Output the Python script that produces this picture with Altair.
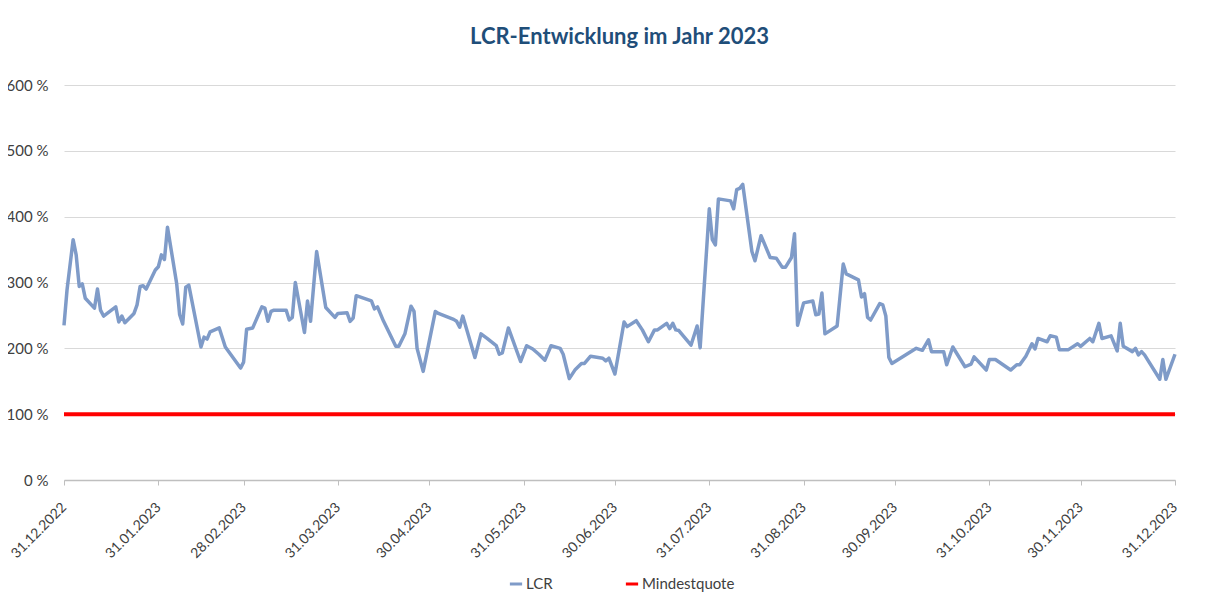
import altair as alt
import pandas as pd

# Days after 31.12.2022 and LCR values in percent
lcr_days = [0, 1, 3, 4, 5, 6, 7, 10, 11, 12, 13, 17, 18, 19, 20, 23, 24, 25, 26, 27,
            30, 31, 32, 33, 34, 37, 38, 39, 40, 41, 45, 46, 47, 48, 51, 53, 58, 59, 60, 62,
            65, 66, 67, 68, 69, 73, 74, 75, 76, 79, 80, 81, 83, 86, 89, 90, 93, 94, 95, 96,
            101, 102, 103, 105, 109, 110, 112, 114, 115, 116, 118, 122, 123, 128, 129, 130, 131, 135, 137, 139,
            142, 143, 144, 146, 150, 152, 154, 156, 158, 160, 163, 164, 166, 168, 170, 171, 173, 177, 178, 179,
            181, 184, 185, 188, 190, 192, 194, 195, 198, 199, 200, 201, 202, 206, 208, 209, 212, 213, 214, 215,
            219, 220, 221, 222, 223, 226, 227, 229, 232, 234, 236, 237, 239, 240, 241, 243, 246, 247, 248, 249,
            250, 254, 256, 257, 261, 262, 263, 264, 265, 268, 269, 270, 271, 272, 280, 282, 284, 285, 289, 290,
            292, 296, 298, 299, 303, 304, 306, 311, 313, 314, 316, 318, 319, 320, 323, 324, 326, 327, 330, 333,
            334, 337, 338, 340, 341, 344, 346, 347, 348, 351, 352, 353, 354, 355, 360, 361, 362, 365]
lcr_values = [235, 289, 365, 342, 294, 298, 276, 261, 290, 258, 249, 263, 240, 249, 239, 253, 266, 294, 295, 290,
              319, 324, 342, 335, 384, 299, 251, 237, 293, 296, 202, 217, 214, 225, 231, 202, 170, 179, 229, 231,
              263, 261, 241, 256, 258, 258, 243, 247, 300, 224, 272, 241, 347, 262, 247, 253, 254, 241, 246, 280,
              272, 260, 263, 241, 203, 203, 222, 264, 256, 200, 165, 256, 253, 244, 241, 232, 249, 186, 222, 215,
              204, 191, 193, 231, 180, 204, 199, 191, 182, 204, 200, 191, 154, 168, 177, 177, 188, 185, 181, 185,
              161, 240, 233, 242, 228, 210, 228, 228, 238, 230, 238, 228, 227, 205, 234, 201, 412, 365, 357, 427,
              424, 412, 441, 443, 449, 347, 333, 371, 338, 337, 323, 323, 338, 374, 235, 269, 272, 251, 252, 284,
              222, 234, 328, 313, 304, 278, 283, 247, 243, 268, 266, 249, 186, 177, 200, 197, 213, 195, 195, 175,
              202, 172, 176, 187, 167, 183, 183, 167, 175, 175, 188, 207, 199, 215, 210, 219, 217, 198, 198, 207,
              203, 215, 210, 238, 215, 219, 196, 238, 203, 195, 200, 190, 195, 190, 153, 183, 153, 191]

min_days = [0, 365]
min_values = [100, 100]

tick_dates = ["2022-12-31", "2023-01-31", "2023-02-28", "2023-03-31", "2023-04-30", "2023-05-31",
              "2023-06-30", "2023-07-31", "2023-08-31", "2023-09-30", "2023-10-31", "2023-11-30",
              "2023-12-31"]
y_ticks = [0, 100, 200, 300, 400, 500, 600]

series_names = ["LCR", "Mindestquote"]
series_colors = ["#7F9BC8", "#FF0000"]

base = pd.Timestamp("2022-12-31")
lcr_df = pd.DataFrame({"date": [base + pd.Timedelta(days=d) for d in lcr_days],
                       "value": lcr_values, "series": "LCR"})
min_df = pd.DataFrame({"date": [base + pd.Timedelta(days=d) for d in min_days],
                       "value": min_values, "series": "Mindestquote"})

tick_vals = [alt.DateTime(year=int(s[:4]), month=int(s[5:7]), date=int(s[8:10])) for s in tick_dates]

FONT = "Lato"

x_enc = alt.X("date:T",
              scale=alt.Scale(domain=[alt.DateTime(year=2022, month=12, date=31),
                                      alt.DateTime(year=2023, month=12, date=31)], nice=False),
              axis=alt.Axis(values=tick_vals, format="%d.%m.%Y", labelAngle=-45, labelAlign="right",
                            labelBaseline="middle", labelPadding=20, tickSize=5, tickColor="#BFBFBF",
                            domainColor="#BFBFBF", domainWidth=1.5, grid=False, title=None,
                            labelFontSize=14, labelColor="#404040", labelFont=FONT, labelOverlap=False))
y_enc = alt.Y("value:Q",
              scale=alt.Scale(domain=[0, 600], nice=False),
              axis=alt.Axis(values=y_ticks, labelExpr="datum.value + ' %'", ticks=False, domain=False,
                            gridColor="#D9D9D9", gridWidth=1, labelPadding=16, title=None,
                            labelFontSize=15, labelColor="#404040", labelFont=FONT))
c_enc = alt.Color("series:N",
                  scale=alt.Scale(domain=series_names, range=series_colors),
                  legend=alt.Legend(title=None, orient="none", direction="horizontal",
                                    legendX=444, legendY=491, symbolType="stroke",
                                    symbolSize=150, symbolStrokeWidth=3, columnPadding=66,
                                    gridAlign="none",
                                    labelFontSize=15, labelColor="#404040", labelFont=FONT,
                                    labelOffset=2))

lcr_line = alt.Chart(lcr_df).mark_line(strokeWidth=3.5, strokeJoin="round").encode(
    x=x_enc, y=y_enc, color=c_enc)
min_line = alt.Chart(min_df).mark_line(strokeWidth=4).encode(
    x=x_enc, y=y_enc, color=c_enc)

chart = alt.layer(lcr_line, min_line).properties(
    width=1111,
    height=395,
    background="white",
    title=alt.TitleParams("LCR-Entwicklung im Jahr 2023", fontSize=22, font=FONT, fontWeight="bold",
                          color="#1F4E79", anchor="middle", offset=29),
    autosize=alt.AutoSizeParams(type="none"),
    padding={"left": 56, "top": 77, "right": 35, "bottom": 119},
).configure_view(stroke=None)

chart.save("out.html", embed_options={"renderer": "svg", "actions": False})
